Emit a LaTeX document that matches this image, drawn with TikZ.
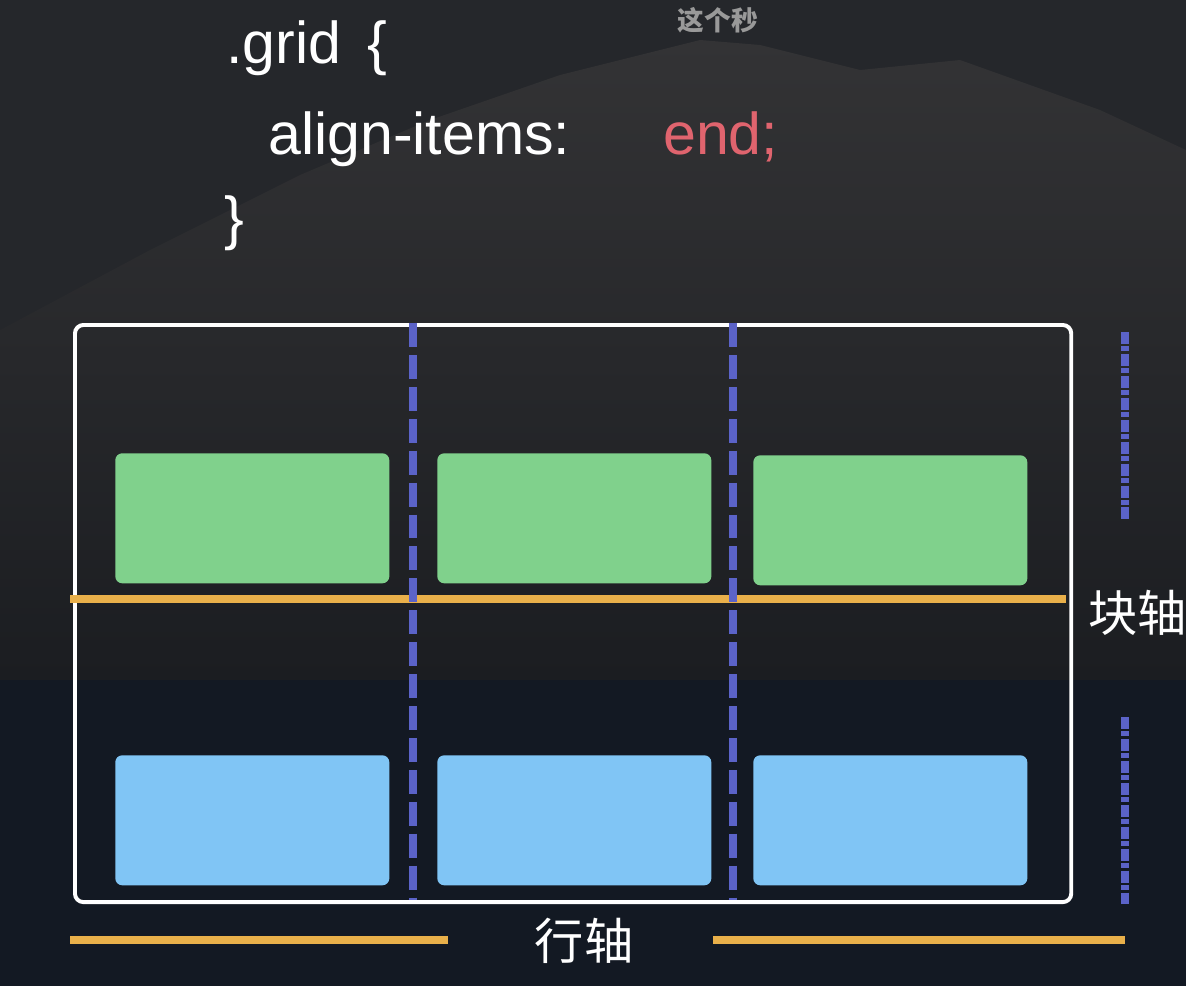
\documentclass[tikz,border=0pt]{standalone}
\usepackage{fontspec}
\setmainfont{Liberation Sans}
\newfontfamily\cjk{Noto Sans CJK SC}
\usepackage{tikz}
\usetikzlibrary{calc, positioning}

\definecolor{skytone}{HTML}{25272B}
\definecolor{rocktop}{HTML}{333335}
\definecolor{rockbot}{HTML}{1B1D21}
\definecolor{seatone}{HTML}{131923}
\definecolor{cellgreen}{HTML}{80D18C}
\definecolor{cellblue}{HTML}{80C5F5}
\definecolor{trackblue}{HTML}{5B63C8}
\definecolor{axisorange}{HTML}{E9B04A}
\definecolor{keyred}{HTML}{E0646E}

\tikzset{
	cell/.style={anchor=north west, inner sep=0pt, minimum width=6.85cm, minimum height=3.25cm, rounded corners=5pt},
	greencell/.style={cell, fill=cellgreen},
	bluecell/.style={cell, fill=cellblue},
	track/.style={trackblue, line width=5pt, dash pattern=on 17pt off 5.7pt},
	sidetrack/.style={trackblue, line width=5pt, dash pattern=on 8.5pt off 1.8pt on 3.5pt off 1.8pt},
	axisline/.style={axisorange, line width=5pt},
	codeline/.style={anchor=base west, text=white, inner sep=0pt, font=\fontsize{42}{50}\selectfont},
	axisname/.style={text=white, inner sep=0pt, font=\cjk\fontsize{35}{40}\selectfont}
}

\begin{document}
\begin{tikzpicture}[x=0.025cm, y=-0.025cm]
		\useasboundingbox (0, 0) rectangle (1186, 986);
		\fill[skytone] (0, 0) rectangle (1186, 680);
		\shade[top color=rocktop, bottom color=rockbot] (0, 330) -- (150, 250) -- (300, 175) -- (430, 120) -- (560, 75) -- (700, 40) -- (760, 45) -- (860, 70) -- (960, 60) -- (1100, 110) -- (1186, 150) -- (1186, 680) -- (0, 680) -- cycle;
		\fill[seatone] (0, 680) rectangle (1186, 986);
		\node[text=gray!80, inner sep=0pt, font=\cjk\bfseries\fontsize{19}{20}\selectfont] (note) at (718, 20) {这个秒};
		\node[codeline] (sel) at (226, 63) {.grid\hspace{0.45em}\{};
		\node[codeline] (prop) at (268, 154) {align-items:};
		\node[codeline, text=keyred] (val) at (663, 154) {end;};
		\node[codeline] (close) at (224, 238) {\}};
		\node[draw=white, line width=2.8pt, rounded corners=6pt, inner sep=0pt, minimum width=24.9cm, minimum height=14.425cm, anchor=north west] (grid) at (73, 323) {};
		\node[greencell] (g1) at (115, 453) {};
		\node[greencell] (g2) at (437, 453) {};
		\node[greencell] (g3) at (753, 455) {};
		\node[bluecell] (b1) at (115, 755) {};
		\node[bluecell] (b2) at (437, 755) {};
		\node[bluecell] (b3) at (753, 755) {};
		\draw[axisline] (70, 599) -- (1066, 599);
		\draw[track] (413, 323) -- (413, 900);
		\draw[track] (733, 323) -- (733, 900);
		\draw[sidetrack] (1125, 332) -- (1125, 520);
		\draw[sidetrack] (1125, 717) -- (1125, 905);
		\node[axisname, anchor=west] (blockaxis) at (1088, 613) {块轴};
		\node[axisname] (rowaxis) at (584, 941) {行轴};
		\draw[axisline] (70, 940) -- (448, 940);
		\draw[axisline] (713, 940) -- (1125, 940);
	\end{tikzpicture}
\end{document}
